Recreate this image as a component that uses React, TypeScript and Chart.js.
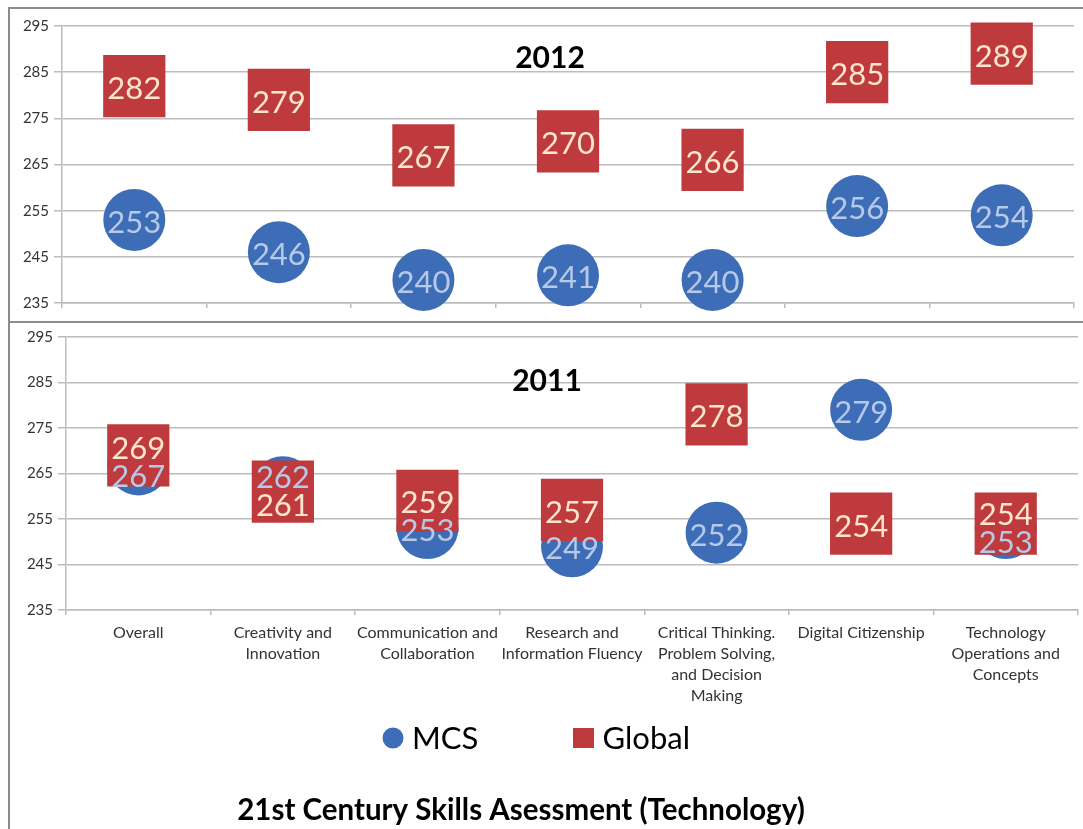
import React, { useEffect, useRef } from "react";
import { Chart, registerables } from "chart.js";
Chart.register(...registerables);

const categories: string[][] = [
  ["Overall"],
  ["Creativity and", "Innovation"],
  ["Communication and", "Collaboration"],
  ["Research and", "Information Fluency"],
  ["Critical Thinking.", "Problem Solving,", "and Decision", "Making"],
  ["Digital Citizenship"],
  ["Technology", "Operations and", "Concepts"],
];
const mcs2012 = [253, 246, 240, 241, 240, 256, 254];
const global2012 = [282, 279, 267, 270, 266, 285, 289];
const mcs2011 = [267, 262, 253, 249, 252, 279, 253];
const global2011 = [269, 261, 259, 257, 278, 254, 254];
const yTicks = [235, 245, 255, 265, 275, 285, 295];
const seriesNames = ["MCS", "Global"];
const chartTitle = "21st Century Skills Asessment (Technology)";

const BLUE = "#3d6db6";
const RED = "#be3a3c";
const BLUE_TXT = "#b6c9e8";
const RED_TXT = "#fde6cc";
const GRID = "#bcbcbc";
const AXIS_TXT = "#333333";
const FONT = "Lato, 'Open Sans', sans-serif";

const labelPlugin = {
  id: "pointLabels",
  afterDatasetsDraw(chart: any) {
    const ctx = chart.ctx;
    const m0 = chart.getDatasetMeta(0);
    const m1 = chart.getDatasetMeta(1);
    const ds0 = chart.data.datasets[0].data;
    const ds1 = chart.data.datasets[1].data;
    ctx.save();
    ctx.font = `31px ${FONT}`;
    ctx.textAlign = "center";
    ctx.textBaseline = "alphabetic";
    const capH = ctx.measureText("0").actualBoundingBoxAscent || 22;
    const S = 28;
    for (let i = 0; i < m0.data.length; i++) {
      let y0 = m0.data[i].y;
      let y1 = m1.data[i].y;
      if (Math.abs(y0 - y1) < S) {
        const mid = (y0 + y1) / 2;
        if (y0 <= y1) {
          y0 = mid - S / 2;
          y1 = mid + S / 2;
        } else {
          y1 = mid - S / 2;
          y0 = mid + S / 2;
        }
      }
      ctx.fillStyle = BLUE_TXT;
      ctx.fillText(String(ds0[i]), m0.data[i].x, y0 + capH / 2 + 2);
      ctx.fillStyle = RED_TXT;
      ctx.fillText(String(ds1[i]), m1.data[i].x, y1 + capH / 2 + 2);
    }
    ctx.restore();
  },
};

const yearPlugin = {
  id: "yearTitle",
  afterDatasetsDraw(chart: any, _args: any, opts: any) {
    const ctx = chart.ctx;
    const a = chart.chartArea;
    ctx.save();
    ctx.font = `bold 30px ${FONT}`;
    ctx.fillStyle = "#000";
    ctx.textAlign = "center";
    ctx.textBaseline = "middle";
    ctx.fillText(opts.text, opts.x, a.top + opts.dy);
    ctx.restore();
  },
};

const legendTitlePlugin = {
  id: "legendTitle",
  afterDraw(chart: any, _args: any, opts: any) {
    if (!opts.show) return;
    const ctx = chart.ctx;
    ctx.save();
    const ly = opts.legendY;
    ctx.font = `31px ${FONT}`;
    ctx.textBaseline = "middle";
    ctx.textAlign = "left";
    ctx.fillStyle = BLUE;
    ctx.beginPath();
    ctx.arc(opts.mcsX, ly, 10.5, 0, Math.PI * 2);
    ctx.fill();
    ctx.fillStyle = "#000";
    ctx.fillText(seriesNames[0], opts.mcsX + 19, ly + 1);
    ctx.fillStyle = RED;
    ctx.fillRect(opts.globX - 10.5, ly - 10, 21, 20);
    ctx.fillStyle = "#000";
    ctx.fillText(seriesNames[1], opts.globX + 19, ly + 1);
    ctx.font = `bold 29.5px ${FONT}`;
    ctx.textAlign = "center";
    ctx.fillText(chartTitle, opts.titleX, opts.titleY);
    ctx.restore();
  },
};

function buildConfig(mcs: number[], glob: number[], d: any): any {
  return {
    type: "line",
    data: {
      labels: categories,
      datasets: [
        {
          label: seriesNames[0],
          data: mcs,
          showLine: false,
          pointStyle: "circle",
          pointRadius: 31,
          pointHoverRadius: 31,
          backgroundColor: BLUE,
          borderColor: BLUE,
          pointBorderWidth: 0,
          borderWidth: 0,
          order: 2,
          clip: false,
        },
        {
          label: seriesNames[1],
          data: glob,
          showLine: false,
          pointStyle: "rect",
          pointRadius: 44,
          pointHoverRadius: 44,
          backgroundColor: RED,
          borderColor: RED,
          pointBorderWidth: 0,
          borderWidth: 0,
          order: 1,
          clip: false,
        },
      ],
    },
    options: {
      responsive: false,
      animation: false,
      events: [],
      layout: {
        autoPadding: false,
        padding: { left: 0, top: d.top, right: d.right, bottom: d.bottom },
      },
      plugins: {
        legend: { display: false },
        tooltip: { enabled: false },
        title: { display: false },
        yearTitle: { text: d.year, x: d.yearX, dy: d.yearDy },
        legendTitle: d.legend || { show: false },
      },
      scales: {
        x: {
          offset: true,
          grid: {
            offset: true,
            drawOnChartArea: false,
            drawTicks: true,
            tickLength: 5,
            color: GRID,
            lineWidth: 1.5,
          },
          border: { display: true, color: GRID, width: 1.5 },
          ticks: {
            display: d.showX,
            autoSkip: false,
            maxRotation: 0,
            minRotation: 0,
            padding: 7,
            color: AXIS_TXT,
            font: { family: FONT, size: 16, lineHeight: 1.31 },
          },
          afterFit: (s: any) => {
            s.height = d.xh;
          },
        },
        y: {
          min: 235,
          max: 295,
          afterBuildTicks: (s: any) => {
            s.ticks = yTicks.map((v) => ({ value: v }));
          },
          grid: { color: GRID, tickLength: 8, lineWidth: 1.5 },
          border: { display: true, color: GRID, width: 1.5 },
          ticks: {
            padding: 5,
            color: AXIS_TXT,
            font: { family: FONT, size: 15 },
          },
          afterFit: (s: any) => {
            s.width = d.yw;
          },
        },
      },
    },
    plugins: [labelPlugin, yearPlugin, legendTitlePlugin],
  };
}

export default function App() {
  const topRef = useRef<HTMLCanvasElement>(null);
  const botRef = useRef<HTMLCanvasElement>(null);

  useEffect(() => {
    const c1 = new Chart(
      topRef.current as HTMLCanvasElement,
      buildConfig(mcs2012, global2012, {
        top: 17,
        right: 9,
        bottom: 0,
        xh: 18,
        yw: 52,
        showX: false,
        year: "2012",
        yearX: 540,
        yearDy: 32,
      })
    );
    const c2 = new Chart(
      botRef.current as HTMLCanvasElement,
      buildConfig(mcs2011, global2011, {
        top: 11,
        right: 5,
        bottom: 109,
        xh: 110,
        yw: 56,
        showX: true,
        year: "2011",
        yearX: 537,
        yearDy: 44,
        legend: {
          show: true,
          legendY: 415,
          mcsX: 383,
          globX: 573.5,
          titleX: 511,
          titleY: 487,
        },
      })
    );
    return () => {
      c1.destroy();
      c2.destroy();
    };
  }, []);

  return (
    <div
      style={{
        position: "fixed",
        left: 0,
        top: 0,
        width: 1083,
        height: 829,
        overflow: "hidden",
        background: "#fff",
      }}
    >
      <div
        style={{
          position: "absolute",
          left: 8,
          top: 7,
          width: 1100,
          height: 312,
          border: "2px solid #8c8c8c",
        }}
      />
      <div
        style={{
          position: "absolute",
          left: 8,
          top: 321,
          width: 0,
          height: 520,
          borderLeft: "2px solid #8c8c8c",
        }}
      />
      <canvas
        ref={topRef}
        width={1073}
        height={312}
        style={{ position: "absolute", left: 10, top: 9, width: 1073, height: 312 }}
      />
      <canvas
        ref={botRef}
        width={1073}
        height={506}
        style={{ position: "absolute", left: 10, top: 323, width: 1073, height: 506 }}
      />
    </div>
  );
}
